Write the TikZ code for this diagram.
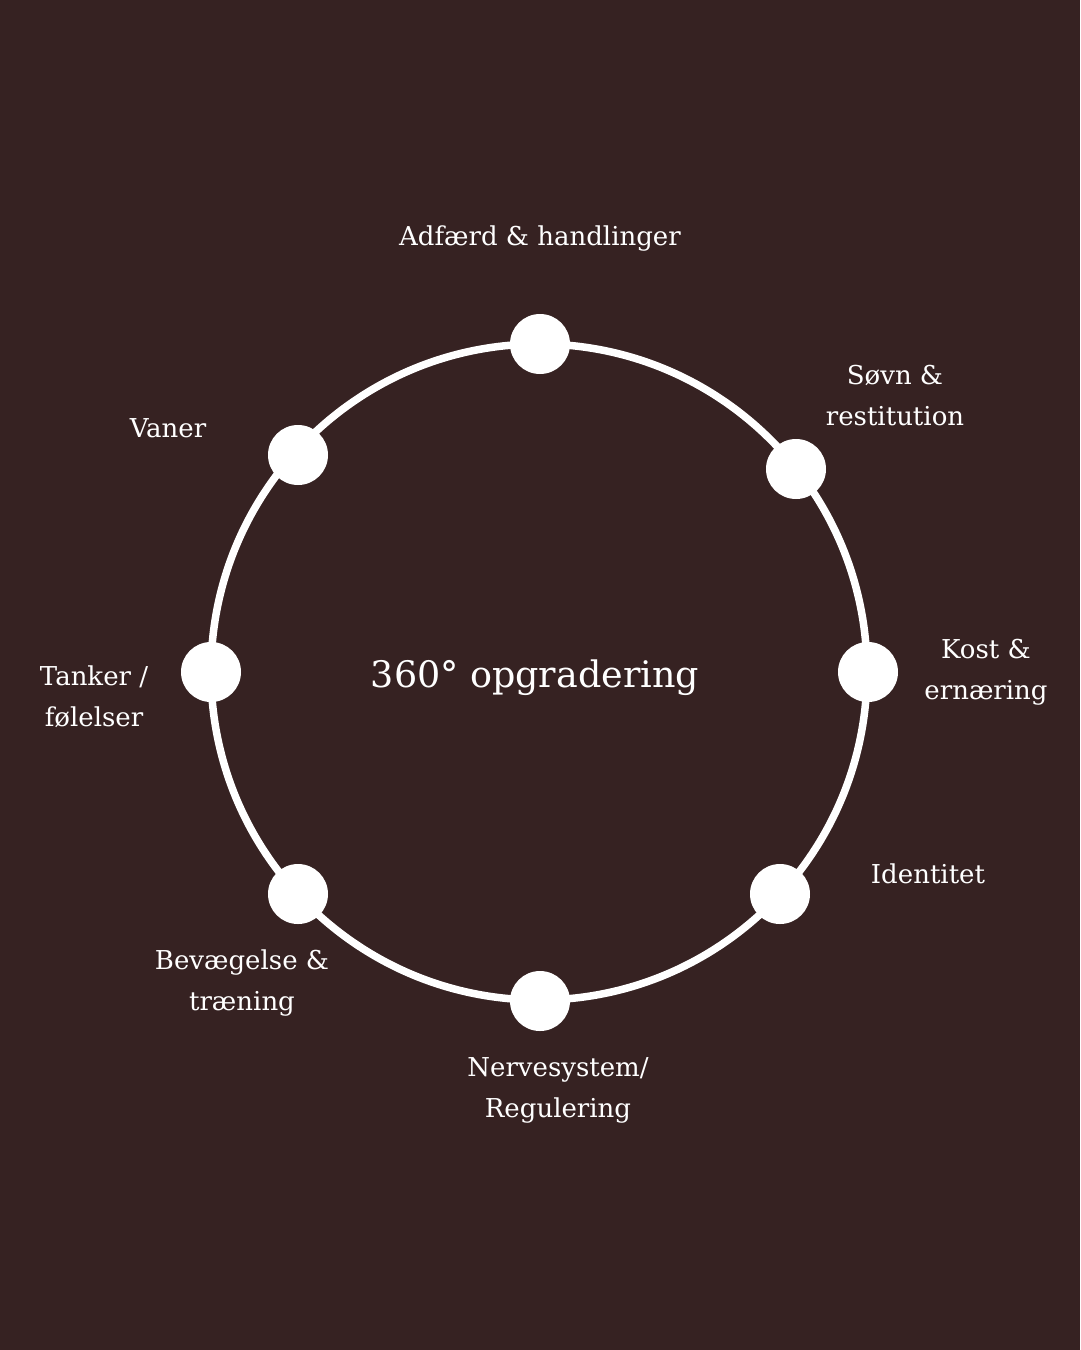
\documentclass[tikz,border=0pt]{standalone}
\usepackage{fontspec}
\setmainfont{DejaVu Serif}
\definecolor{bg}{RGB}{54,34,34}
\begin{document}
\begin{tikzpicture}[x=1pt,y=-1pt,
  dot/.style={circle,fill=white,minimum size=60pt,inner sep=0pt},
  lbl/.style={text=white,font=\fontsize{26}{41}\selectfont,align=center,inner sep=0pt},
  ring/.style={draw=white,line width=7.5pt}]
\fill[bg] (0,0) rectangle (1080,1350);
\useasboundingbox (0,0) rectangle (1080,1350);
\node[circle,minimum size=656pt,inner sep=0pt] (c) at (539,672) {};
\draw[ring] (c.center) circle[radius=328];
\node[dot] (d1) at (540,344) {};
\node[dot] (d2) at (796,469) {};
\node[dot] (d3) at (868,672) {};
\node[dot] (d4) at (780,894) {};
\node[dot] (d5) at (540,1001) {};
\node[dot] (d6) at (298,894) {};
\node[dot] (d7) at (211,672) {};
\node[dot] (d8) at (298,455) {};
\node[text=white,font=\fontsize{36.5}{44}\selectfont,inner sep=0pt] (title) at (535,678) {360° opgradering};
\node[lbl] (l1) at (540,239) {Adfærd \& handlinger};
\node[lbl] (l2) at (895,396) {Søvn \&\\restitution};
\node[lbl] (l3) at (986,672) {Kost \&\\ernæring};
\node[lbl] (l4) at (928,874) {Identitet};
\node[lbl] (l5) at (558,1090) {Nervesystem/\\Regulering};
\node[lbl] (l6) at (242,983) {Bevægelse \&\\træning};
\node[lbl] (l7) at (94,697) {Tanker /\\følelser};
\node[lbl] (l8) at (168,428) {Vaner};
\end{tikzpicture}
\end{document}
